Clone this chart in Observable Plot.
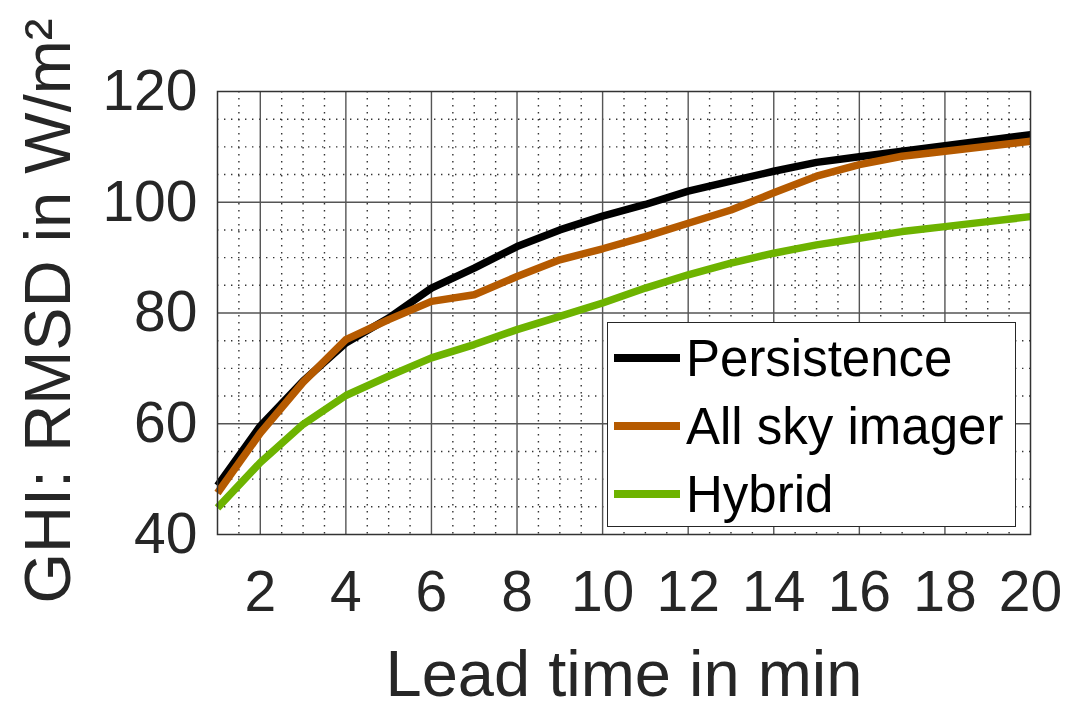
<!DOCTYPE html>
<html>
<head>
<meta charset="utf-8">
<script src="https://cdn.jsdelivr.net/npm/d3@7"></script>
<script src="https://cdn.jsdelivr.net/npm/@observablehq/plot@0.6"></script>
<style>
  html, body { margin: 0; padding: 0; background: #fff; }
  #wrap { position: relative; width: 1071px; height: 702px; }
  #legend {
    position: absolute; left: 607px; top: 322px; width: 407px; height: 203px;
    border: 1.5px solid #262626; background: #fff; box-sizing: content-box;
    font-family: "Liberation Sans", Arial, sans-serif;
  }
  .row { position: absolute; left: 6px; height: 68px; display: flex; align-items: center; }
  .sw { width: 66px; height: 7.5px; margin-right: 6px; }
  .lbl { font-size: 51px; line-height: 1; color: #000; white-space: nowrap; }
</style>
</head>
<body>
<div id="wrap"></div>
<script>
// ---- data ----
const leadTimes = [1, 2, 3, 4, 5, 6, 7, 8, 9, 10, 11, 12, 13, 14, 15, 16, 17, 18, 19, 20];
const seriesNames = ["Persistence", "All sky imager", "Hybrid"];
const seriesColors = ["#000000", "#b55a00", "#6db300"];
const persistence = [48.8, 59.6, 67.7, 74.6, 79.1, 84.5, 88.1, 92.0, 95.0, 97.5, 99.6, 102.0, 103.8, 105.6, 107.2, 108.2, 109.2, 110.2, 111.2, 112.2];
const allSkyImager = [47.5, 58.3, 67.5, 75.2, 78.8, 82.1, 83.3, 86.6, 89.6, 91.6, 93.8, 96.2, 98.6, 101.7, 104.7, 106.8, 108.3, 109.2, 110.1, 111.0];
const hybrid = [44.8, 53.0, 59.9, 65.1, 68.6, 71.9, 74.3, 77.0, 79.4, 81.8, 84.5, 86.9, 89.0, 90.8, 92.3, 93.5, 94.7, 95.6, 96.5, 97.4];
const xTicks = [2, 4, 6, 8, 10, 12, 14, 16, 18, 20];
const yTicks = [40, 60, 80, 100, 120];
const xLabel = "Lead time in min";
const yLabel = "GHI: RMSD in W/m\u00b2";

const seriesValues = [persistence, allSkyImager, hybrid];
const rows = [];
seriesNames.forEach((name, s) => {
  leadTimes.forEach((t, i) => rows.push({series: name, lead: t, value: seriesValues[s][i]}));
});

const xMinor = d3.range(1.5, 20, 0.5).filter(v => v % 2 !== 0);
const yMinor = d3.range(45, 120, 5).filter(v => v % 20 !== 0);
const xMajor = xTicks.filter(v => v < 20);
const yMajor = yTicks.filter(v => v > 40 && v < 120);

const chart = Plot.plot({
  width: 1071,
  height: 702,
  marginLeft: 217,
  marginRight: 41,
  marginTop: 91,
  marginBottom: 168,
  style: {fontFamily: "'Liberation Sans', Arial, sans-serif", fontSize: "57px", background: "#fff", color: "#262626"},
  x: {domain: [1, 20]},
  y: {domain: [40, 120]},
  color: {domain: seriesNames, range: seriesColors},
  marks: [
    Plot.gridX(xMinor, {stroke: "#333", strokeOpacity: 1, strokeWidth: 1.4, strokeDasharray: "1.4,5.6"}),
    Plot.gridY(yMinor, {stroke: "#333", strokeOpacity: 1, strokeWidth: 1.4, strokeDasharray: "1.4,5.6"}),
    Plot.gridX(xMajor, {stroke: "#555", strokeOpacity: 1, strokeWidth: 1.4}),
    Plot.gridY(yMajor, {stroke: "#555", strokeOpacity: 1, strokeWidth: 1.4}),
    Plot.line(rows, {x: "lead", y: "value", z: "series", stroke: "series", strokeWidth: 7.5, strokeLinejoin: "round", strokeLinecap: "butt"}),
    Plot.frame({stroke: "#333", strokeWidth: 1.5}),
    Plot.axisX(xTicks, {tickSize: 0, tickPadding: 36, fontSize: 57, label: null, fill: "#262626"}),
    Plot.axisY(yTicks, {tickSize: 0, tickPadding: 20, fontSize: 57, label: null, fill: "#262626"}),
    Plot.text([xLabel], {frameAnchor: "bottom", textAnchor: "middle", lineAnchor: "top", dy: 115, fontSize: 65, fill: "#262626"}),
    Plot.text([yLabel], {frameAnchor: "left", textAnchor: "middle", rotate: -90, lineAnchor: "middle", dx: -168, dy: -2, fontSize: 65, fill: "#262626"})
  ]
});

const wrap = document.getElementById("wrap");
wrap.appendChild(chart);

// legend overlay inside the axes
const legend = document.createElement("div");
legend.id = "legend";
seriesNames.forEach((name, i) => {
  const row = document.createElement("div");
  row.className = "row";
  row.style.top = (1 + i * 68) + "px";
  const sw = document.createElement("span");
  sw.className = "sw";
  sw.style.background = seriesColors[i];
  const lbl = document.createElement("span");
  lbl.className = "lbl";
  lbl.textContent = name;
  row.appendChild(sw);
  row.appendChild(lbl);
  legend.appendChild(row);
});
wrap.appendChild(legend);
</script>
</body>
</html>
